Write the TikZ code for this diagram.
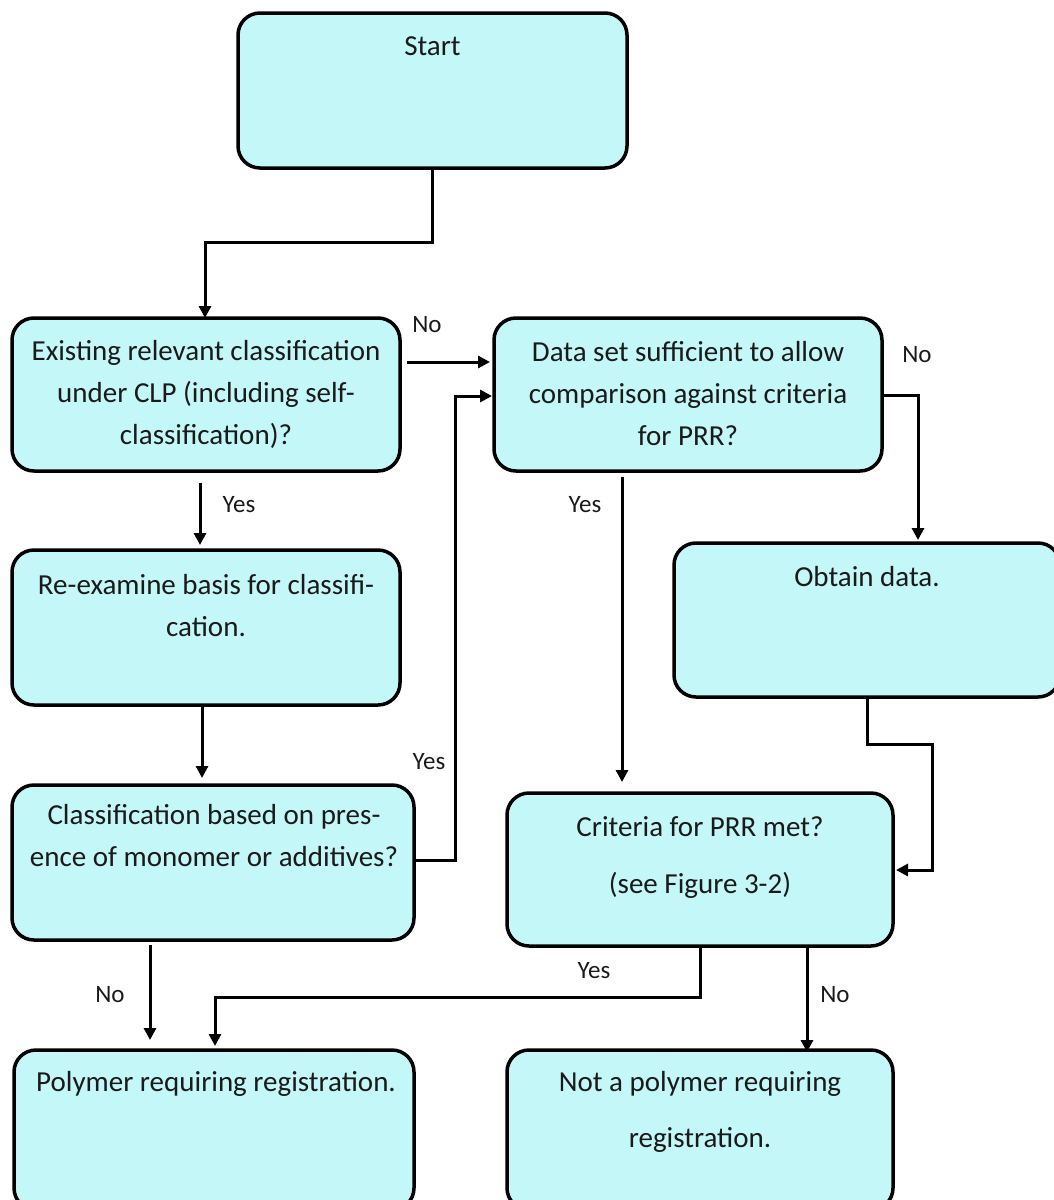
\documentclass[tikz,border=0pt]{standalone}
\usepackage{fontspec}
\setmainfont{Carlito}
\usetikzlibrary{arrows.meta}
\definecolor{boxfill}{HTML}{C4F7F8}
\definecolor{txtcol}{HTML}{1A1A1A}
\tikzset{
  box/.style={draw=black, line width=3.5pt, fill=boxfill, rounded corners=22pt, outer sep=0pt, inner sep=0pt},
  txt/.style={align=center, text=txtcol, font=\fontsize{29}{42}\selectfont, inner sep=0pt},
  lbl/.style={text=txtcol, font=\fontsize{25}{28}\selectfont, inner sep=0pt},
  arr/.style={line width=3pt, -{Triangle[length=12pt,width=12pt]}}
}
\begin{document}
\begin{tikzpicture}[x=1pt,y=-1pt]
\useasboundingbox (0,0) rectangle (1054,1200);
\clip (0,0) rectangle (1054,1200);
% boxes
\node[box, minimum width=389pt, minimum height=155pt] (start) at (432.5,90.5) {};
\node[box, minimum width=388pt, minimum height=153pt] (b1) at (206,394.5) {};
\node[box, minimum width=388pt, minimum height=153pt] (b2) at (688,394.5) {};
\node[box, minimum width=388pt, minimum height=155pt] (b3) at (206,627.5) {};
\node[box, minimum width=386pt, minimum height=154pt] (b4) at (867,620) {};
\node[box, minimum width=402pt, minimum height=155pt] (b5) at (213,862.5) {};
\node[box, minimum width=386pt, minimum height=153pt] (b6) at (700,869.5) {};
\node[box, minimum width=400pt, minimum height=160pt] (b7) at (214,1130) {};
\node[box, minimum width=386pt, minimum height=160pt] (b8) at (700,1130) {};
% texts
\node[txt] (tstart) at (432.5,46) {Start};
\node[txt] (t1) at (206,394) {Existing relevant classification\\under CLP (including self-\\classification)?};
\node[txt] (t2) at (688,394) {Data set sufficient to allow\\comparison against criteria\\for PRR?};
\node[txt] (t3) at (206,606) {Re-examine basis for classifi-\\cation.};
\node[txt] (t4) at (867,577) {Obtain data.};
\node[txt] (t5) at (214,836) {Classification based on pres-\\ence of monomer or additives?};
\node[txt] (t6a) at (700,827) {Criteria for PRR met?};
\node[txt] (t6b) at (700,885) {(see Figure 3-2)};
\node[txt] (t7) at (216,1084) {Polymer requiring registration.};
\node[txt] (t8a) at (700,1084) {Not a polymer requiring};
\node[txt] (t8b) at (700,1140) {registration.};
% labels
\node[lbl] (l1) at (427,325) {No};
\node[lbl] (l2) at (239,505) {Yes};
\node[lbl] (l3) at (917,355) {No};
\node[lbl] (l4) at (585,505) {Yes};
\node[lbl] (l5) at (429,762) {Yes};
\node[lbl] (l6) at (110,995) {No};
\node[lbl] (l7) at (594,971) {Yes};
\node[lbl] (l8) at (835,995) {No};
% connectors
\coordinate (s1) at (432.5,242);
\coordinate (s2) at (205,242);
\draw[arr] (start.south) -- (s1) -- (s2) -- (s2 |- b1.north);
\draw[arr] ([xshift=7pt,yshift=32.5pt]b1.east) -- ([xshift=-4pt,yshift=32.5pt]b2.west);
\draw[arr] ([xshift=-6pt,yshift=-12pt]b1.south) -- ([xshift=-6pt,yshift=5pt]b3.north);
\draw[arr] ([xshift=-4pt]b3.south) -- ([xshift=-11pt,yshift=7pt]b5.north);
\coordinate (c5a) at (455,860);
\coordinate (c5b) at (455,396);
\draw[arr] (b5.east |- c5a) -- (c5a) -- (c5b) -- ([xshift=-2pt]b2.west |- c5b);
\coordinate (c2a) at (918,395);
\draw[arr] (b2.east |- c2a) -- (c2a) -- ([yshift=3pt]c2a |- b4.north);
\draw[arr] ([xshift=-66pt,yshift=-6pt]b2.south) -- ([xshift=-78pt,yshift=11pt]b6.north);
\coordinate (c4a) at (867,744);
\coordinate (c4b) at (932,744);
\coordinate (c4c) at (932,870);
\draw[arr] (b4.south) -- (c4a) -- (c4b) -- (c4c) -- ([xshift=3pt]b6.east |- c4c);
\coordinate (c6a) at (700,997);
\coordinate (c6b) at (215,997);
\draw[arr] (b6.south) -- (c6a) -- (c6b) -- (215,1046);
\draw[arr] ([xshift=107pt]b6.south) -- (807,1052);
\draw[arr] ([xshift=-63pt,yshift=-5pt]b5.south) -- (150,1040);
\end{tikzpicture}
\end{document}
